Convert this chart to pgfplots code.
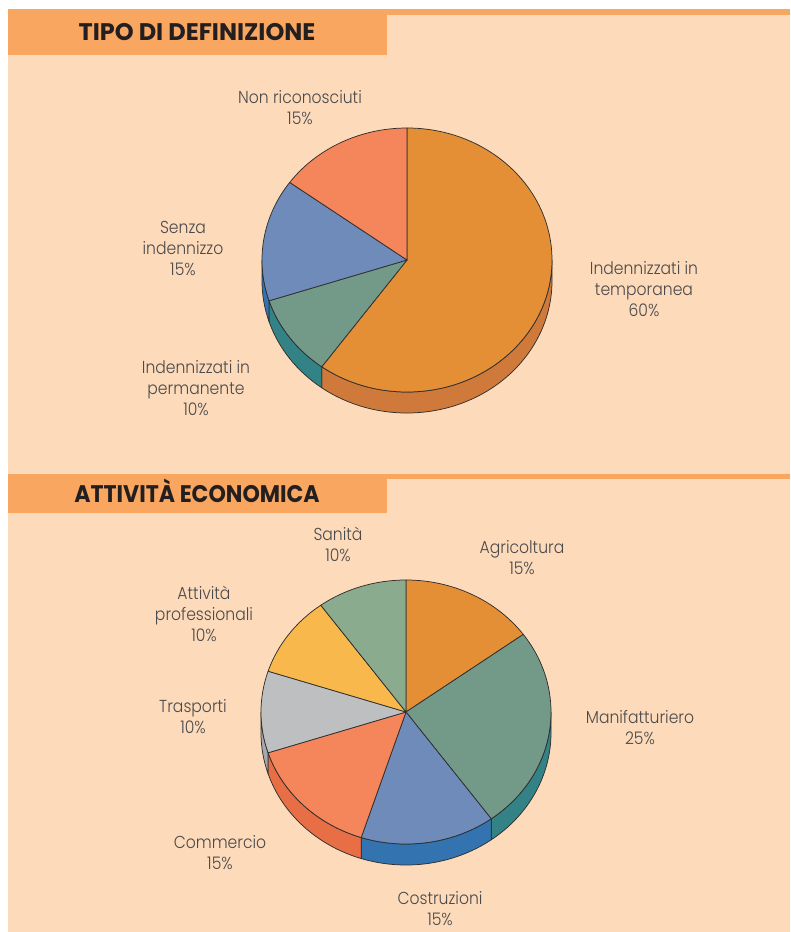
\documentclass[border=0pt]{standalone}
\usepackage{pgfplots}
\pgfplotsset{compat=1.18}
\usepackage{fontspec}
\setmainfont{Poppins}[UprightFont={* Light},UprightFeatures={FakeStretch=0.9},BoldFont={* Bold}]
\definecolor{bg}{HTML}{FDDAB9}
\definecolor{hdr}{HTML}{F9A660}
\definecolor{hdrtxt}{HTML}{231F20}
\definecolor{lbl}{HTML}{4A4A4C}
\definecolor{edge}{HTML}{2E2E2E}
\definecolor{orT}{HTML}{E48F35}\definecolor{orS}{HTML}{CF7A3B}
\definecolor{grT}{HTML}{739A88}\definecolor{grS}{HTML}{338386}
\definecolor{blT}{HTML}{6E8BBA}\definecolor{blS}{HTML}{3374B0}
\definecolor{saT}{HTML}{F5855A}\definecolor{saS}{HTML}{E76E45}
\definecolor{gyT}{HTML}{BEBFC1}\definecolor{gyS}{HTML}{A6A8AB}
\definecolor{yeT}{HTML}{F9B84B}\definecolor{yeS}{HTML}{E0A03A}
\definecolor{lgT}{HTML}{8BAB8E}\definecolor{lgS}{HTML}{6F9173}
\newcommand\drawpie[3]{%
  \gdef\cum{0}%
  \foreach \v/\ct/\cs in {#3}{%
    \pgfmathsetmacro\s{90-3.6*\cum}%
    \pgfmathsetmacro\e{90-3.6*(\cum+\v)}%
    \pgfmathsetmacro\hi{min(\s,0)}%
    \pgfmathsetmacro\lo{max(\e,-180)}%
    \pgfmathtruncatemacro\ok{\hi>\lo}%
    \ifnum\ok=1
      \filldraw[fill=\cs,draw=edge,line width=0.55pt,line join=round]
        (axis cs:#1,#2) ++(\hi:108.75pt and 99pt)
        arc[start angle=\hi,end angle=\lo,x radius=108.75pt,y radius=99pt]
        -- ++(0,-15.75pt)
        arc[start angle=\lo,end angle=\hi,x radius=108.75pt,y radius=99pt] -- cycle;
    \fi
    \pgfmathsetmacro\n{\cum+\v}\xdef\cum{\n}%
  }%
  \gdef\cum{0}%
  \foreach \v/\ct/\cs in {#3}{%
    \pgfmathsetmacro\s{90-3.6*\cum}%
    \pgfmathsetmacro\e{90-3.6*(\cum+\v)}%
    \filldraw[fill=\ct,draw=edge,line width=0.55pt,line join=round]
      (axis cs:#1,#2) -- ++(\s:108.75pt and 99pt)
      arc[start angle=\s,end angle=\e,x radius=108.75pt,y radius=99pt] -- cycle;
    \pgfmathsetmacro\n{\cum+\v}\xdef\cum{\n}%
  }%
}
\begin{document}
\begin{tikzpicture}
\begin{axis}[scale only axis, width=592.5pt, height=699pt,
  xmin=0, xmax=790, ymin=0, ymax=932, y dir=reverse,
  hide axis, clip=false]
\pgfplotsextra{
  \fill[white] (axis cs:0,0) rectangle (axis cs:790,932);
  \fill[bg] (axis cs:8,15) rectangle (axis cs:790,932);
  % header 1
  \fill[hdr] (axis cs:8,9) rectangle (axis cs:790,15);
  \fill[hdr] (axis cs:8,9) rectangle (axis cs:387,55);
  \node[anchor=base, text=hdrtxt, font=\fontsize{18}{20}\selectfont\bfseries] at (axis cs:197,40.5) {TIPO DI DEFINIZIONE};
  % header 2
  \fill[hdr] (axis cs:8,474) rectangle (axis cs:790,479);
  \fill[hdr] (axis cs:8,474) rectangle (axis cs:387,513);
  \node[anchor=base, text=hdrtxt, font=\fontsize{18}{20}\selectfont\bfseries\addfontfeatures{FakeStretch=0.92}] at (axis cs:197,502) {ATTIVITÀ ECONOMICA};
  % pies
  \drawpie{407}{260}{60/orT/orS, 10/grT/grS, 15/blT/blS, 15/saT/saS}
  \drawpie{406}{712}{15/orT/orS, 25/grT/grS, 15/blT/blS, 15/saT/saS, 10/gyT/gyS, 10/yeT/yeS, 10/lgT/lgS}
}
\begin{scope}[every node/.style={align=center, text=lbl, font=\fontsize{13}{15.75}\selectfont}]
\node at (axis cs:300,107.5) {Non riconosciuti\\15\%};
\node at (axis cs:183,248) {Senza\\indennizzo\\15\%};
\node at (axis cs:196,388) {Indennizzati in\\permanente\\10\%};
\node at (axis cs:644,289) {Indennizzati in\\temporanea\\60\%};
\node at (axis cs:338,544) {Sanità\\10\%};
\node at (axis cs:522,558) {Agricoltura\\15\%};
\node at (axis cs:204,614) {Attività\\professionali\\10\%};
\node at (axis cs:193,717) {Trasporti\\10\%};
\node at (axis cs:640,728) {Manifatturiero\\25\%};
\node at (axis cs:220,853) {Commercio\\15\%};
\node at (axis cs:440,909) {Costruzioni\\15\%};
\end{scope}
\end{axis}
\end{tikzpicture}
\end{document}
